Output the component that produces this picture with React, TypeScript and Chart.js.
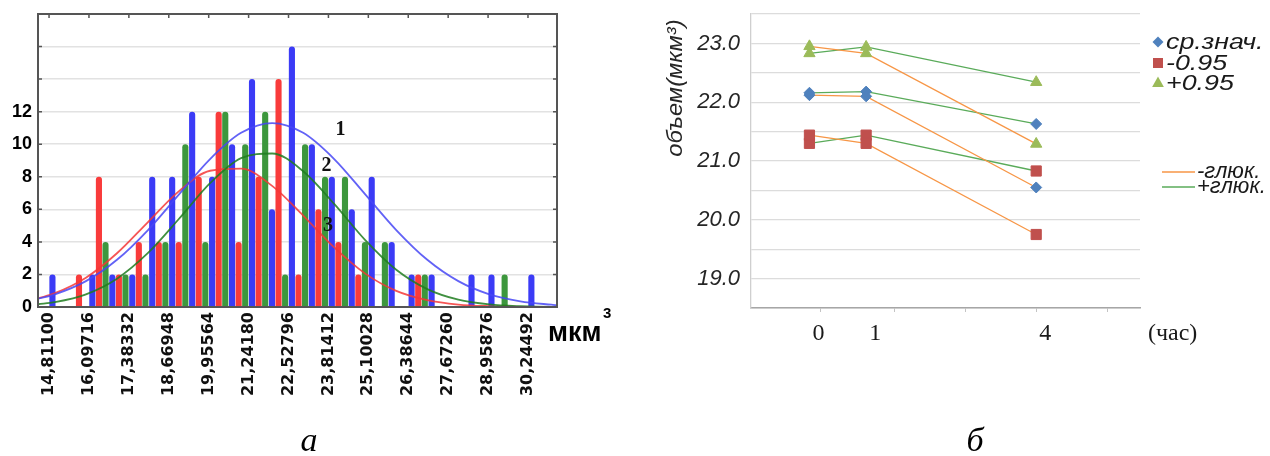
import React, { useEffect, useRef } from "react";
import { Chart, registerables } from "chart.js";

Chart.register(...registerables);

// ---------- Left chart (histogram "а") ----------
const xTickLabels = [
  "14,81100", "16,09716", "17,38332", "18,66948", "19,95564", "21,24180", "22,52796",
  "23,81412", "25,10028", "26,38644", "27,67260", "28,95876", "30,24492",
];
const binStarts = [
  14.811, 15.454, 16.097, 16.74, 17.383, 18.026, 18.669, 19.313, 19.956, 20.599, 21.242, 21.885,
  22.528, 23.171, 23.814, 24.457, 25.1, 25.743, 26.386, 27.03, 27.673, 28.316, 28.959, 29.602, 30.245,
];
const countsBlue = [2, 0, 2, 2, 2, 8, 8, 12, 8, 10, 14, 6, 16, 10, 8, 6, 8, 4, 2, 2, 0, 2, 2, 0, 2];
const countsRed = [0, 2, 8, 2, 4, 4, 4, 8, 12, 4, 8, 14, 2, 6, 4, 2, 0, 0, 2, 0, 0, 0, 0, 0, 0];
const countsGreen = [0, 0, 4, 2, 2, 4, 10, 4, 12, 10, 12, 2, 10, 8, 8, 4, 4, 0, 2, 0, 0, 0, 2, 0, 0];

const curveX = [14.455, 15, 16, 17, 18, 19, 20, 21, 22, 23, 24, 25, 26, 27, 28, 29, 30, 31, 31.18];
const curve1 = [0.51, 0.78, 1.59, 2.9, 4.73, 6.92, 9.09, 10.7, 11.3, 10.7, 9.09, 6.92, 4.73, 2.9, 1.59, 0.78, 0.35, 0.14, 0.11];
const curve2 = [0.17, 0.3, 0.78, 1.74, 3.32, 5.42, 7.61, 9.15, 9.43, 8.34, 6.33, 4.11, 2.29, 1.1, 0.45, 0.16, 0.05, 0.01, 0.01];
const curve3 = [0.53, 0.85, 1.8, 3.3, 5.22, 7.12, 8.37, 8.5, 7.44, 5.62, 3.66, 2.05, 0.99, 0.42, 0.15, 0.05, 0.01, 0, 0];
const curveNames = ["1", "2", "3"];
const curveNameAt = [
  { x: 24.2, y: 10.9 },
  { x: 23.75, y: 8.7 },
  { x: 23.8, y: 5.0 },
];

// ---------- Right chart ("б") ----------
const hours = [0, 1, 4];
const hourLabels = ["0", "1", "4"];
const hourTickMarks = [0.2, 1.5, 2.75, 4, 5.25];
const meanMinus = [22.12, 22.1, 20.55];
const lowMinus = [21.44, 21.3, 19.75];
const highMinus = [22.95, 22.83, 21.29];
const meanPlus = [22.16, 22.18, 21.63];
const lowPlus = [21.3, 21.44, 20.83];
const highPlus = [22.83, 22.94, 22.34];
const markerLegend = ["ср.знач.", "-0.95", "+0.95"];
const lineLegend = ["-глюк.", "+глюк."];

const C_BLUE_BAR = "#3b3bf6";
const C_RED_BAR = "#f93b3b";
const C_GREEN_BAR = "#3d973d";
const C_DIAMOND = "#4f81bd";
const C_SQUARE = "#c0504d";
const C_TRI = "#9bbb59";
const C_ORANGE = "#f79646";
const C_GREEN_LINE = "#5aab5a";

const SANS = "'Liberation Sans', Arial, sans-serif";
const SERIF = "'Liberation Serif', 'Times New Roman', serif";

const xTickValues = xTickLabels.map((s) => parseFloat(s.replace(",", ".")));
const binHalf = (binStarts[1] - binStarts[0]) / 2;

function shape(ctx: CanvasRenderingContext2D, kind: string, x: number, y: number, r: number, color: string) {
  ctx.save();
  ctx.fillStyle = color;
  ctx.beginPath();
  if (kind === "diamond") {
    ctx.moveTo(x - r, y);
    ctx.lineTo(x, y - r);
    ctx.lineTo(x + r, y);
    ctx.lineTo(x, y + r);
  } else if (kind === "square") {
    ctx.rect(x - r, y - r, 2 * r, 2 * r);
  } else {
    ctx.moveTo(x, y - r);
    ctx.lineTo(x + r * 0.9, y + r * 0.6);
    ctx.lineTo(x - r * 0.9, y + r * 0.6);
  }
  ctx.closePath();
  ctx.fill();
  ctx.restore();
}

function stretchedText(ctx: CanvasRenderingContext2D, text: string, x: number, y: number, sx: number) {
  ctx.save();
  ctx.translate(x, y);
  ctx.scale(sx, 1);
  ctx.fillText(text, 0, 0);
  ctx.restore();
}

const leftPlugin = {
  id: "leftDecor",
  afterDraw(chart: any) {
    const { ctx, chartArea: a, scales } = chart;
    ctx.save();
    ctx.strokeStyle = "#555";
    ctx.lineWidth = 2;
    ctx.strokeRect(a.left, a.top, a.right - a.left, a.bottom - a.top);
    ctx.lineWidth = 1.5;
    ctx.beginPath();
    xTickValues.forEach((v) => {
      const px = scales.x.getPixelForValue(v);
      ctx.moveTo(px, a.top);
      ctx.lineTo(px, a.top + 4);
    });
    scales.y.ticks.forEach((t: any) => {
      const py = scales.y.getPixelForValue(t.value);
      ctx.moveTo(a.right, py);
      ctx.lineTo(a.right - 4, py);
      ctx.moveTo(a.left, py);
      ctx.lineTo(a.left + 4, py);
    });
    ctx.stroke();

    ctx.fillStyle = "#111";
    ctx.font = `bold 20px ${SERIF}`;
    ctx.textAlign = "center";
    ctx.textBaseline = "middle";
    curveNames.forEach((n, i) => {
      ctx.fillText(n, scales.x.getPixelForValue(curveNameAt[i].x), scales.y.getPixelForValue(curveNameAt[i].y));
    });

    ctx.fillStyle = "#000";
    ctx.textAlign = "left";
    ctx.textBaseline = "alphabetic";
    ctx.font = `bold 27px ${SANS}`;
    ctx.fillText("мкм", 548, 341);
    ctx.font = `bold 15px ${SANS}`;
    ctx.fillText("3", 603, 318);

    ctx.font = `italic 34px ${SERIF}`;
    ctx.textAlign = "center";
    ctx.fillText("а", 309, 451);
    ctx.restore();
  },
};

const rightPlugin = {
  id: "rightDecor",
  afterDraw(chart: any) {
    const { ctx, scales } = chart;
    ctx.save();
    // y title
    ctx.fillStyle = "#262626";
    ctx.font = `italic 22px ${SANS}`;
    ctx.textAlign = "center";
    ctx.textBaseline = "middle";
    ctx.save();
    ctx.translate(56, 88);
    ctx.rotate(-Math.PI / 2);
    ctx.scale(1.08, 1);
    ctx.fillText("объем(мкм³)", 0, 0);
    ctx.restore();

    // hour labels
    ctx.fillStyle = "#1a1a1a";
    ctx.font = `24px ${SERIF}`;
    ctx.textAlign = "center";
    ctx.textBaseline = "alphabetic";
    hours.forEach((h, i) => {
      ctx.fillText(hourLabels[i], scales.x.getPixelForValue(h) + 9, 340);
    });
    ctx.textAlign = "left";
    ctx.fillText("(час)", 528, 340);

    // legend
    const kinds = ["diamond", "square", "triangle"];
    const cols = [C_DIAMOND, C_SQUARE, C_TRI];
    const rs = [5.5, 5, 6.5];
    const ys = [42, 63, 83];
    ctx.font = `italic 22px ${SANS}`;
    ctx.textBaseline = "middle";
    markerLegend.forEach((t, i) => {
      shape(ctx, kinds[i], 538, ys[i], rs[i], cols[i]);
      ctx.fillStyle = "#1a1a1a";
      stretchedText(ctx, t, 546, ys[i] + 1, 1.22);
    });
    const lcols = [C_ORANGE, C_GREEN_LINE];
    const lys = [172, 187];
    lineLegend.forEach((t, i) => {
      ctx.strokeStyle = lcols[i];
      ctx.lineWidth = 1.3;
      ctx.beginPath();
      ctx.moveTo(542, lys[i]);
      ctx.lineTo(575, lys[i]);
      ctx.stroke();
      ctx.fillStyle = "#1a1a1a";
      stretchedText(ctx, t, 577, lys[i], 1.0);
    });

    ctx.fillStyle = "#000";
    ctx.font = `italic 34px ${SERIF}`;
    ctx.textAlign = "center";
    ctx.textBaseline = "alphabetic";
    ctx.fillText("б", 355, 451);
    ctx.restore();
  },
};

function leftConfig(): any {
  const bar = (vals: number[], color: string) => ({
    type: "bar",
    data: binStarts.map((s, i) => ({ x: s + binHalf, y: vals[i] })),
    backgroundColor: color,
    borderRadius: 3,
    borderSkipped: "start",
    categoryPercentage: 0.99,
    barPercentage: 0.93,
    order: 2,
  });
  const curve = (vals: number[], color: string) => ({
    type: "line",
    data: curveX.map((x, i) => ({ x, y: vals[i] })),
    borderColor: color,
    borderWidth: 1.8,
    pointRadius: 0,
    cubicInterpolationMode: "monotone",
    fill: false,
    order: 1,
  });
  return {
    type: "bar",
    data: {
      datasets: [
        bar(countsBlue, C_BLUE_BAR),
        bar(countsRed, C_RED_BAR),
        bar(countsGreen, C_GREEN_BAR),
        curve(curve1, "rgba(70,70,245,0.85)"),
        curve(curve2, "rgba(30,125,30,0.85)"),
        curve(curve3, "rgba(245,55,55,0.85)"),
      ],
    },
    options: {
      responsive: false,
      animation: false,
      layout: { padding: { left: 0, right: 63, top: 14, bottom: 0 } },
      plugins: { legend: { display: false }, tooltip: { enabled: false } },
      scales: {
        x: {
          type: "linear",
          min: 14.455,
          max: 31.18,
          offset: false,
          afterBuildTicks: (s: any) => {
            s.ticks = xTickValues.map((v) => ({ value: v }));
          },
          afterFit: (s: any) => {
            s.height = 149;
          },
          grid: { display: false, drawTicks: false, offset: false },
          border: { display: false },
          ticks: {
            autoSkip: false,
            minRotation: 90,
            maxRotation: 90,
            padding: 5,
            color: "#111",
            font: { family: "'DejaVu Sans', sans-serif", weight: "bold", size: 16 },
            callback: (v: number) => {
              const i = xTickValues.findIndex((t) => Math.abs(t - v) < 1e-6);
              return i >= 0 ? xTickLabels[i] : "";
            },
          },
        },
        y: {
          min: 0,
          max: 18,
          afterFit: (s: any) => {
            s.width = 38;
          },
          grid: { color: "#e2e2e2", lineWidth: 1.5, drawTicks: false },
          border: { display: false },
          ticks: {
            stepSize: 2,
            padding: 6,
            color: "#000",
            font: { family: SANS, weight: "bold", size: 18, lineHeight: 0.4 },
            callback: (v: number) => (v <= 12 ? String(v) : ""),
          },
        },
      },
    },
    plugins: [leftPlugin],
  };
}

function rightConfig(): any {
  const series = (vals: number[], line: string, style: string, color: string, r: number) => ({
    data: hours.map((h, i) => ({ x: h, y: vals[i] })),
    borderColor: line,
    borderWidth: 1.3,
    pointStyle: style,
    pointRadius: r,
    pointBackgroundColor: color,
    pointBorderColor: color,
    pointBorderWidth: 1,
    tension: 0,
    fill: false,
  });
  return {
    type: "line",
    data: {
      datasets: [
        series(highMinus, C_ORANGE, "triangle", C_TRI, 6.5),
        series(highPlus, C_GREEN_LINE, "triangle", C_TRI, 6.5),
        series(meanMinus, C_ORANGE, "rectRot", C_DIAMOND, 5.5),
        series(meanPlus, C_GREEN_LINE, "rectRot", C_DIAMOND, 5.5),
        series(lowMinus, C_ORANGE, "rect", C_SQUARE, 7.2),
        series(lowPlus, C_GREEN_LINE, "rect", C_SQUARE, 7.2),
      ],
    },
    options: {
      responsive: false,
      animation: false,
      layout: { padding: { left: 0, right: 130, top: 14, bottom: 0 } },
      plugins: { legend: { display: false }, tooltip: { enabled: false } },
      scales: {
        x: {
          type: "linear",
          min: -1.031,
          max: 5.831,
          afterBuildTicks: (s: any) => {
            s.ticks = hourTickMarks.map((v) => ({ value: v }));
          },
          afterFit: (s: any) => {
            s.height = 148;
          },
          grid: { drawOnChartArea: false, drawTicks: true, tickLength: 4, color: "#c4c4c4" },
          border: { display: true, color: "#a6a6a6", width: 1.5 },
          ticks: { autoSkip: false, maxRotation: 0, callback: () => "" },
        },
        y: {
          min: 18.5,
          max: 23.5,
          afterFit: (s: any) => {
            s.width = 131;
          },
          grid: { color: "#dcdcdc", lineWidth: 1.3, drawTicks: false },
          border: { display: true, color: "#cfcfcf", width: 1.3 },
          ticks: {
            stepSize: 0.5,
            padding: 11,
            color: "#262626",
            font: { family: SANS, style: "italic", size: 22, lineHeight: 0.2 },
            callback: (v: number) => (Math.abs(v - Math.round(v)) < 1e-6 ? Number(v).toFixed(1) : ""),
          },
        },
      },
    },
    plugins: [rightPlugin],
  };
}

export default function App() {
  const leftRef = useRef<HTMLCanvasElement>(null);
  const rightRef = useRef<HTMLCanvasElement>(null);
  useEffect(() => {
    document.body.style.margin = "0";
    const c1 = new Chart(leftRef.current as HTMLCanvasElement, leftConfig());
    const c2 = new Chart(rightRef.current as HTMLCanvasElement, rightConfig());
    return () => {
      c1.destroy();
      c2.destroy();
    };
  }, []);
  return (
    <div style={{ position: "relative", width: 1270, height: 456, background: "#fff" }}>
      <canvas
        ref={leftRef}
        width={620}
        height={456}
        style={{ position: "absolute", left: 0, top: 0, width: 620, height: 456 }}
      />
      <canvas
        ref={rightRef}
        width={650}
        height={456}
        style={{ position: "absolute", left: 620, top: 0, width: 650, height: 456 }}
      />
    </div>
  );
}
